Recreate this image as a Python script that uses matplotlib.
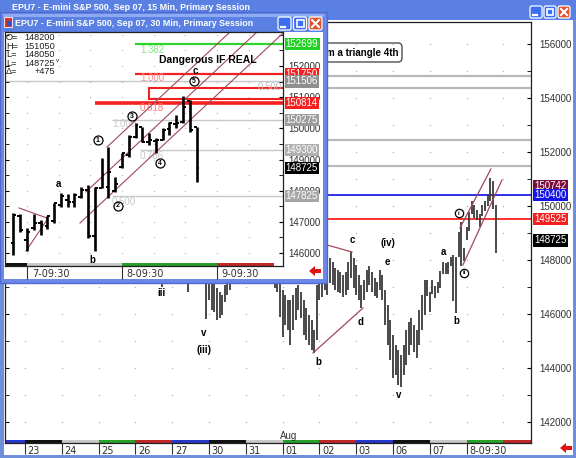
import numpy as np
import matplotlib.pyplot as plt
from matplotlib.patches import Rectangle, FancyBboxPatch, Polygon
from matplotlib.transforms import blended_transform_factory as blend

plt.rcParams['font.family'] = ['Liberation Sans Narrow', 'Liberation Sans', 'DejaVu Sans']

# ---------------- data ----------------
# main window: 15 min chart, drawn here as 30 min bars (14 per session)
# from Jul 26 09:30 to Aug 06 15:00, then continued by the bar_* lists below
main_days = ['23', '24', '25', '26', '27', '30', '31', '01', '02', '03', '06', '07', '8-09:30']
main_hi = [
    150600, 150300, 149900, 149500, 149100, 148700, 148400, 148200, 147900, 147800, 147700, 148200, 148600, 149000,
    148900, 148700, 148500, 148200, 147900, 147700, 147600, 147800, 148100, 148300, 148200, 148000, 147900, 147700,
    147600, 147300, 147200, 146950, 146800, 146700, 147075, 147250, 147450, 147800, 148100, 148300, 148600, 148900,
    149200, 149400, 149300, 149100, 148900, 148700, 148800, 148500, 148200, 147900, 147700, 147600, 147300, 147150,
    146900, 146700, 146500, 146500, 146700, 146950, 147075, 146800, 146500, 146225, 145950, 145775, 145400, 147075,
    147550, 147700, 147925, 147800, 148075, 147925, 147700, 147625, 147550, 147450, 147550, 147925, 148300, 148075,
    147800, 147450, 147075, 147250, 147625, 147775, 147550, 147325, 147175, 147625, 147450, 146875, 146325, 145775,
    145225, 144850, 144675, 144475, 144850, 145400, 145700, 145850, 145600, 145400, 146150, 146700,
]
main_lo = [
    150000, 149600, 149200, 148800, 148300, 147900, 147700, 147500, 147400, 147250, 147000, 147500, 147900, 148300,
    148200, 148000, 147800, 147600, 147300, 147200, 146800, 147300, 147500, 147700, 147600, 147400, 147300, 145800,
    146500, 146150, 146075, 145775, 145850, 145950, 146450, 146700, 146900, 147300, 147400, 147700, 147900, 148200,
    148500, 148800, 148700, 148500, 148300, 148200, 148100, 147900, 147600, 147400, 147250, 146950, 146800, 145900,
    145150, 145600, 145400, 144850, 145400, 145775, 146150, 145850, 145225, 145050, 144850, 144675, 144550, 145050,
    146525, 146625, 146875, 146700, 147150, 147075, 146875, 146800, 146775, 146625, 146700, 146875, 147325, 146950,
    146700, 146525, 146225, 146525, 146825, 147075, 146825, 146675, 146600, 146875, 146525, 145600, 144850, 144300,
    143625, 143750, 143375, 143300, 143750, 144100, 144475, 144850, 144600, 144375, 144850, 145400,
]

# 30 min bars Aug 06 15:30 .. Aug 08 15:00 (inset window, also end of main chart)
bar_open = [146325, 147200,
            146425, 146800, 146950, 146875, 147025, 147550, 147700, 147650, 147800, 148025, 146550, 148100, 148125, 147975,
            148775, 149150, 149725, 150050, 149550, 149600, 149625, 149975, 150150, 150200, 150875, 150050]
bar_high = [147275, 147250,
            146800, 147250, 147050, 147200, 147600, 147925, 147900, 147925, 148125, 148175, 148125, 149050, 149400, 148450,
            149225, 149775, 150175, 150050, 149850, 149700, 150025, 150200, 150425, 151050, 150925, 150050]
bar_low = [145950, 146675,
           146075, 146750, 146575, 146775, 146975, 147475, 147475, 147475, 147775, 146475, 146050, 148100, 147775, 147950,
           148725, 149075, 149700, 149550, 149475, 149225, 149625, 149800, 150000, 150175, 149875, 148275]
bar_close = [147225, 146725,
             146675, 146975, 146925, 147175, 147600, 147825, 147625, 147850, 148025, 146550, 148075, 148500, 148600, 148225,
             149200, 149725, 150100, 149575, 149625, 149625, 149950, 150175, 150175, 150675, 149950, 148725]
inset_days = ['7-09:30', '8-09:30', '9-09:30']

main_gray_levels = [154815, 154370, 152444, 151481]
main_marks = [150742, 150400, 149525, 148725]
main_mark_colors = ['#7c0c3c', '#1414e6', '#f42020', '#000000']

fib_levels = [152699, 151750, 151506, 150814, 150275, 149300, 147825]
fib_names = ['1.382', '1.000', '0.500', '0.618', '1.000', '0.786', '0.500']
fib_colors = ['#2ed42e', '#f42020', '#c8c8c8', '#f42020', '#c8c8c8', '#c8c8c8', '#c8c8c8']
fib_widths = [1.6, 1.6, 1.0, 2.6, 1.0, 1.0, 1.0]

info_keys = ['O=', 'H=', 'L=', 'L=', '\u0394=']
info_vals = ['148200', '151050', '148050', '148725', '+475']

bars_per_day = 14
first_day = 3          # Jul 26 is the 4th session on the main axis
wk = ['#2838c8', '#111111', '#c8c8c8', '#26a026', '#c02828']   # Fri Mon Tue Wed Thu

# ---------------- figure scaffolding ----------------
W, H = 576, 458
fig = plt.figure(figsize=(W / 100, H / 100), dpi=100)
fig.patch.set_facecolor('#6e8fdc')


def rect(x0, y0, x1, y1):
    return [x0 / W, 1 - y1 / H, (x1 - x0) / W, (y1 - y0) / H]


def overlay(z):
    o = fig.add_axes([0, 0, 1, 1], zorder=z)
    o.set_xlim(0, W)
    o.set_ylim(H, 0)
    o.axis('off')
    return o


def buttons(o, x, y, s, gap):
    for i, c in enumerate(['#3d6ef0', '#3d6ef0', '#e0522c']):
        bx = x + i * (s + gap)
        o.add_patch(FancyBboxPatch((bx, y), s, s, boxstyle='round,pad=0,rounding_size=2',
                                   fc=c, ec='white', lw=0.9))
    o.plot([x + 3, x + s * 0.55], [y + s - 3.5] * 2, color='white', lw=1.6)
    bx = x + s + gap
    o.add_patch(Rectangle((bx + 3, y + 3), s - 6, s - 6, fc='none', ec='white', lw=1.2))
    bx = x + 2 * (s + gap)
    o.plot([bx + 3, bx + s - 3], [y + 3, y + s - 3], color='white', lw=1.5)
    o.plot([bx + 3, bx + s - 3], [y + s - 3, y + 3], color='white', lw=1.5)


def arrow(o, x, y):
    o.add_patch(Polygon([(x, y), (x + 6, y - 5), (x + 6, y - 2), (x + 12, y - 2),
                         (x + 12, y + 2), (x + 6, y + 2), (x + 6, y + 5)], fc='#e41010', ec='none'))


def title_bar(o, x0, y0, x1, y1, text):
    o.add_patch(Rectangle((x0, y0), x1 - x0, y1 - y0, fc='#5a80e4', ec='none'))
    o.add_patch(Rectangle((x0, y0), x1 - x0, 3, fc='#8eaaf2', ec='none'))
    o.text(x0 + 12, (y0 + y1) / 2 + 1, text, color='white', fontsize=6.4, fontweight='bold', va='center')


back = overlay(0)
ax = fig.add_axes(rect(5, 22, 531, 443), zorder=1)
mid = overlay(2)
axi = fig.add_axes(rect(5, 32, 283, 266), zorder=3)
top = overlay(4)

# main window chrome
back.add_patch(Rectangle((4, 20), 569, 435, fc='white', ec='none'))
title_bar(back, 0, -6, W, 20, 'EPU7 - E-mini S&P 500, Sep 07, 15 Min, Primary Session')
buttons(back, 530, 6, 12, 2)
arrow(back, 560, 448)
back.add_patch(FancyBboxPatch((250, 43), 152, 19, boxstyle='round,pad=0,rounding_size=4',
                              fc='white', ec='#505050', lw=1))
back.text(398, 53, 'Thrust from a triangle 4th', ha='right', va='center', fontsize=7, fontweight='bold')

# ---------------- main chart ----------------
ax.patch.set_alpha(0)
ax.set_xlim(-0.543, 13.75)
ax.set_ylim(141221, 156815)
for sp in ax.spines.values():
    sp.set_linewidth(0.9)
    sp.set_color('#202020')

gx, gy = np.meshgrid(np.arange(0, 14), np.arange(142000, 156001, 1000))
ax.scatter(gx.ravel(), gy.ravel(), s=1.2, color='#bdbdbd', lw=0, zorder=0)

for lv in main_gray_levels:
    ax.axhline(lv, color='#b9b9b9', lw=1.6, zorder=1)
ax.axhline(150400, color='#2020e0', lw=1.3, zorder=1)
ax.axhline(149525, color='#ff2020', lw=1.3, zorder=1)

hi_all = main_hi + bar_high
lo_all = main_lo + bar_low
xm = first_day + np.arange(len(hi_all)) / bars_per_day
ax.vlines(xm, lo_all, hi_all, color='#3a3a3a', lw=1.3, zorder=2)

chan = '#a04858'
ax.plot([8.21, 8.886], [148555, 148296], color=chan, lw=0.9)
ax.plot([7.826, 9.185], [144555, 146222], color=chan, lw=0.9)
ax.plot([11.82, 12.66], [149185, 151370], color=chan, lw=0.9)
ax.plot([11.90, 12.96], [147815, 150963], color=chan, lw=0.9)

for x, y, s in [(3.72, 146777, 'iii'), (4.86, 145296, 'v'), (4.86, 144666, '(iii)'),
                (7.96, 144222, 'b'), (8.89, 148740, 'c'), (9.13, 145703, 'd'),
                (9.86, 148629, '(iv)'), (9.86, 147925, 'e'), (10.14, 143000, 'v'),
                (11.36, 148296, 'a'), (11.71, 145740, 'b')]:
    ax.text(x, y, s, ha='center', va='center', fontsize=7, fontweight='bold')
for x, y, s in [(11.79, 149740, 'i'), (11.93, 147518, 'ii')]:
    ax.plot(x, y, marker='o', ms=6, mfc='white', mec='black', mew=0.9)
    ax.text(x, y, s, ha='center', va='center', fontsize=4.5, fontweight='bold')

ax.set_yticks(np.arange(142000, 156001, 2000))
ax.set_yticklabels([str(v) for v in range(142000, 156001, 2000)])
ax.set_yticks(np.arange(142000, 157000, 1000), minor=True)
ax.tick_params(axis='y', which='both', direction='in', left=True, right=True,
               labelleft=False, labelright=True, length=3, labelsize=7, pad=6, labelcolor='#303030')
ax.set_xticks(range(13))
ax.set_xticklabels([])
ax.tick_params(axis='x', direction='out', length=8, width=0.8, color='#303030')

tb = blend(ax.transData, ax.transAxes)
for d in range(-1, 14):
    ax.add_patch(Rectangle((d, 0), 1, 3 / 421, transform=tb, fc=wk[(d + 1) % 5], ec='none'))
for d, lab in enumerate(main_days):
    ax.text(d + 0.07, -0.019, lab, transform=tb, ha='left', va='center', fontsize=7,
            color='#303030', family='DejaVu Sans', clip_on=False)
ax.text(7.17, 0.016, 'Aug', transform=tb, ha='center', va='center', fontsize=7, color='#303030')

tr = blend(ax.transAxes, ax.transData)
for lv, c in zip(main_marks, main_mark_colors):
    ax.text(1.006, lv, f'{lv:.0f}', transform=tr, ha='left', va='center', fontsize=7, color='white',
            bbox=dict(boxstyle='square,pad=0.12', fc=c, ec='none'), clip_on=False)

# ---------------- inset window ----------------
mid.add_patch(Rectangle((0, 12), 327, 271, fc='#6c88e4', ec='#4e6ad0', lw=1))
mid.add_patch(Rectangle((4, 32), 319, 247, fc='white', ec='none'))
title_bar(mid, 3, 14, 324, 32, 'EPU7 - E-mini S&P 500, Sep 07, 30 Min, Primary Session')
mid.add_patch(Rectangle((4, 17), 8, 10, fc='#d83030', ec='white', lw=0.6))
mid.add_patch(Rectangle((7, 21), 4, 5, fc='#3050c0', ec='none'))
buttons(mid, 278, 17, 13, 2.5)
arrow(mid, 309, 271)

axi.patch.set_alpha(0)
axi.set_xlim(-0.2316, 2.695)
axi.set_ylim(145584, 153091)
for sp in axi.spines.values():
    sp.set_linewidth(0.9)
    sp.set_color('#202020')

gx, gy = np.meshgrid(np.arange(0, 2.7, 1 / 3), np.arange(146000, 153001, 500))
axi.scatter(gx.ravel(), gy.ravel(), s=1.2, color='#c4c4c4', lw=0, zorder=0)

fib_start = [1.137, 1.137, -0.24, 0.716, 0.895, 1.19, 0.895]
for lv, x0, c, lw in zip(fib_levels, fib_start, fib_colors, fib_widths):
    axi.hlines(lv, x0, 2.695, color=c, lw=lw, zorder=1)
axi.add_patch(Rectangle((1.284, 150941), 1.5, 353, fc='none', ec='#f02020', lw=1.5, zorder=1))

fib_text = [(1.19, 152513, '#86e486'), (1.19, 151615, '#ff8c8c'), (2.43, 151326, '#c0c0c0'),
            (1.19, 150653, '#ff7a7a'), (0.895, 150139, '#c8c8c8'), (1.19, 149113, '#c8c8c8'),
            (0.895, 147637, '#c8c8c8')]
for (x, y, c), s in zip(fib_text, fib_names):
    axi.text(x, y, s, color=c, fontsize=7, va='center', ha='left', zorder=1)

xi = (np.arange(len(bar_high)) - 2) / bars_per_day
axi.vlines(xi, bar_low, bar_high, color='black', lw=1.9, zorder=3)
axi.hlines(bar_open, xi - 0.03, xi, color='black', lw=1.4, zorder=3)
axi.hlines(bar_close, xi, xi + 0.03, color='black', lw=1.4, zorder=3)

axi.plot([0.558, 2.695], [146963, 153054], color=chan, lw=0.8, zorder=2)
axi.plot([0.842, 2.137], [149400, 153091], color=chan, lw=0.8, zorder=2)
axi.plot([0.62, 2.421], [147960, 153091], color=chan, lw=0.8, zorder=2)
axi.plot([-0.084, 0.21], [147445, 147124], color=chan, lw=0.8, zorder=2)
axi.plot([-0.0105, 0.21], [146065, 147060], color=chan, lw=0.8, zorder=2)

for x, y, s in [(0.326, 148215, 'a'), (0.684, 145776, 'b'), (1.768, 151840, 'c')]:
    axi.text(x, y, s, ha='center', va='center', fontsize=7, fontweight='bold')
for x, y, s in [(0.747, 149626, '1'), (0.958, 147509, '2'), (1.105, 150396, '3'),
                (1.4, 148888, '4'), (1.758, 151519, '5')]:
    axi.plot(x, y, marker='o', ms=6.5, mfc='white', mec='black', mew=0.9, zorder=4)
    axi.text(x, y, s, ha='center', va='center', fontsize=5, fontweight='bold', zorder=5)
axi.text(1.905, 152192, 'Dangerous IF REAL', ha='center', va='center', fontsize=7.5, fontweight='bold')

axi.set_yticks(np.arange(146000, 152001, 1000))
axi.set_yticklabels([str(v) for v in range(146000, 152001, 1000)])
axi.set_yticks(np.arange(146000, 153001, 500), minor=True)
axi.tick_params(axis='y', which='both', direction='in', left=True, right=True,
                labelleft=False, labelright=True, length=3, labelsize=7, pad=4, labelcolor='#303030')
axi.set_xticks(range(3))
axi.set_xticklabels([])
axi.tick_params(axis='x', direction='out', length=9, width=0.8, color='#303030')

tbi = blend(axi.transData, axi.transAxes)
for x0, x1, c in [(-0.24, 0, wk[1]), (0, 1, wk[2]), (1, 2, wk[3]), (2, 2.6, wk[4])]:
    axi.add_patch(Rectangle((x0, 0), x1 - x0, 3 / 234, transform=tbi, fc=c, ec='none'))
for d, lab in enumerate(inset_days):
    axi.text(d + 0.05, -0.036, lab, transform=tbi, ha='left', va='center', fontsize=7,
             color='#303030', family='DejaVu Sans', clip_on=False)

inset_marks = [(152699, '#22d022'), (151750, '#f42020'), (151506, '#8e8e8e'), (150814, '#f42020'),
               (150275, '#9c9c9c'), (149300, '#b0b0b0'), (148725, '#000000'), (147825, '#a6a6a6')]
tri = blend(axi.transAxes, axi.transData)
for lv, c in inset_marks:
    axi.text(1.01, lv, f'{lv:.0f}', transform=tri, ha='left', va='center', fontsize=7, color='white',
             bbox=dict(boxstyle='square,pad=0.12', fc=c, ec='none'), clip_on=False, zorder=6)

for i, (k, v) in enumerate(zip(info_keys, info_vals)):
    y = 38 + i * 8.4
    top.text(6, y, k, fontsize=6.6, va='center', color='#202020')
    top.text(55, y, v, fontsize=6.6, va='center', ha='right', color='#202020')
top.text(56, 61, 'v', fontsize=4.5, va='center', color='#202020')

fig.savefig('out.png', dpi=100)
